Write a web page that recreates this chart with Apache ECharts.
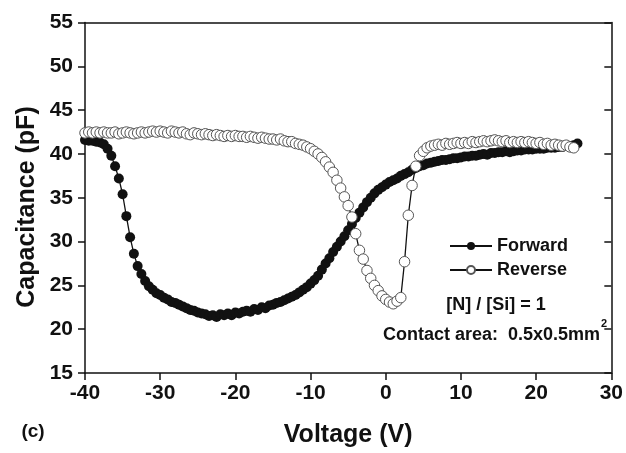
<!DOCTYPE html>
<html>
<head>
<meta charset="utf-8">
<script src="https://cdn.jsdelivr.net/npm/echarts@6/dist/echarts.min.js"></script>
<style>html,body{margin:0;padding:0;background:#fff;}#c{width:626px;height:453px;}</style>
</head>
<body>
<div id="c"></div>
<script>
const voltage = [
 -40,-39.5,-39,-38.5,-38,-37.5,-37,-36.5,-36,-35.5,
 -35,-34.5,-34,-33.5,-33,-32.5,-32,-31.5,-31,-30.5,
 -30,-29.5,-29,-28.5,-28,-27.5,-27,-26.5,-26,-25.5,
 -25,-24.5,-24,-23.5,-23,-22.5,-22,-21.5,-21,-20.5,
 -20,-19.5,-19,-18.5,-18,-17.5,-17,-16.5,-16,-15.5,
 -15,-14.5,-14,-13.5,-13,-12.5,-12,-11.5,-11,-10.5,
 -10,-9.5,-9,-8.5,-8,-7.5,-7,-6.5,-6,-5.5,
 -5,-4.5,-4,-3.5,-3,-2.5,-2,-1.5,-1,-0.5,
 0,0.5,1,1.5,2,2.5,3,3.5,4,4.5,
 5,5.5,6,6.5,7,7.5,8,8.5,9,9.5,
 10,10.5,11,11.5,12,12.5,13,13.5,14,14.5,
 15,15.5,16,16.5,17,17.5,18,18.5,19,19.5,
 20,20.5,21,21.5,22,22.5,23,23.5,24,24.5,
 25,25.5
];
const forward = [
 41.6,41.5,41.5,41.4,41.3,41.1,40.6,39.8,38.6,37.2,
 35.4,32.9,30.5,28.6,27.2,26.3,25.5,24.9,24.5,24.1,
 23.9,23.6,23.4,23.1,23.0,22.8,22.6,22.4,22.2,22.1,
 21.9,21.8,21.7,21.5,21.6,21.4,21.7,21.6,21.8,21.6,
 21.9,21.8,22.0,22.1,22.0,22.3,22.2,22.5,22.4,22.7,
 22.8,23.0,23.1,23.3,23.5,23.7,23.9,24.2,24.5,24.8,
 25.2,25.6,26.1,26.8,27.5,28.1,28.8,29.4,30.0,30.6,
 31.3,32.0,32.7,33.3,33.9,34.5,35.0,35.5,35.9,36.2,
 36.5,36.8,37.0,37.2,37.5,37.7,37.9,38.2,38.4,38.6,
 38.7,38.9,39.0,39.1,39.2,39.3,39.3,39.4,39.5,39.5,
 39.6,39.7,39.7,39.8,39.8,39.9,40.0,39.9,40.1,40.1,
 40.2,40.2,40.3,40.2,40.3,40.4,40.4,40.5,40.5,40.5,
 40.6,40.6,40.6,40.7,40.7,40.7,40.8,40.8,40.9,40.9,
 41.0,41.2
];
const reverse = [
 42.4,42.5,42.4,42.5,42.4,42.5,42.4,42.4,42.5,42.3,
 42.4,42.5,42.4,42.3,42.4,42.5,42.4,42.5,42.6,42.5,
 42.6,42.5,42.4,42.6,42.5,42.4,42.5,42.3,42.2,42.4,
 42.3,42.2,42.3,42.2,42.1,42.2,42.1,42.0,42.1,42.0,
 42.1,42.0,42.0,41.9,42.0,41.9,41.8,41.9,41.8,41.7,
 41.7,41.6,41.7,41.5,41.4,41.4,41.2,41.1,41.0,40.8,
 40.6,40.3,40.0,39.6,39.1,38.5,37.9,37.0,36.1,35.1,
 34.1,32.8,30.9,29.0,28.0,26.7,25.8,25.0,24.4,23.8,
 23.4,23.1,22.9,23.2,23.6,27.7,33.0,36.4,38.6,39.8,
 40.3,40.7,40.9,41.0,41.1,41.0,41.2,41.1,41.2,41.3,
 41.2,41.3,41.2,41.4,41.3,41.4,41.5,41.4,41.5,41.6,
 41.5,41.4,41.5,41.3,41.4,41.3,41.4,41.3,41.4,41.3,
 41.2,41.3,41.1,41.2,41.0,41.1,41.0,40.9,41.0,40.8,
 40.7
];
const xTicks = [-40,-30,-20,-10,0,10,20,30];
const yTicks = [15,20,25,30,35,40,45,50,55];
const seriesNames = ['Forward','Reverse'];

const FONT = '"Liberation Sans", Arial, Helvetica, sans-serif';
const pairs = (ys) => ys.map((y,i)=>[voltage[i], y]);

const chart = echarts.init(document.getElementById('c'), null, {renderer:'canvas'});
const axisLine = {show:true, onZero:false, lineStyle:{color:'#111', width:1.5}};
chart.setOption({
  animation:false,
  backgroundColor:'#fff',
  grid:{left:85, right:14, top:22.5, bottom:78},
  legend:{
    orient:'vertical', left:449, top:236, padding:0,
    itemWidth:42, itemHeight:10, itemGap:4,
    textStyle:{fontFamily:FONT, fontWeight:'bold', fontSize:18, color:'#111', lineHeight:20},
    data:seriesNames
  },
  xAxis:[{
    type:'value', min:xTicks[0], max:xTicks[xTicks.length-1], interval:10,
    axisLine:axisLine,
    axisTick:{show:true, inside:false, length:7, lineStyle:{color:'#111', width:1.5}},
    axisLabel:{fontFamily:FONT, fontWeight:'bold', fontSize:21, color:'#111', margin:10},
    splitLine:{show:false},
    name:'Voltage (V)', nameLocation:'middle', nameGap:50,
    nameTextStyle:{fontFamily:FONT, fontWeight:'bold', fontSize:25, color:'#111'}
  },{
    type:'value', position:'top', min:xTicks[0], max:xTicks[xTicks.length-1], interval:10,
    axisLine:axisLine, axisTick:{show:false}, axisLabel:{show:false}, splitLine:{show:false}
  }],
  yAxis:[{
    type:'value', position:'left', min:yTicks[0], max:yTicks[yTicks.length-1], interval:5,
    axisLine:axisLine,
    axisTick:{show:true, inside:false, length:7, lineStyle:{color:'#111', width:1.5}},
    axisLabel:{fontFamily:FONT, fontWeight:'bold', fontSize:21, color:'#111', margin:12},
    splitLine:{show:false}
  },{
    type:'value', position:'right', min:yTicks[0], max:yTicks[yTicks.length-1], interval:5,
    axisLine:axisLine,
    axisTick:{show:true, inside:true, length:7, lineStyle:{color:'#111', width:1.5}},
    axisLabel:{show:false}, splitLine:{show:false}
  }],
  graphic:[
    {type:'text', x:27, y:207, rotation:Math.PI/2, style:{text:'Capacitance (pF)', fontFamily:FONT, fontWeight:'bold', fontSize:25, fill:'#111', align:'center', verticalAlign:'middle'}},
    {type:'text', x:33, y:432, style:{text:'(c)', fontFamily:FONT, fontWeight:'bold', fontSize:19, fill:'#111', align:'center', verticalAlign:'middle'}},
    {type:'text', x:496, y:305, style:{text:'[N] / [Si] = 1', fontFamily:FONT, fontWeight:'bold', fontSize:18, fill:'#111', align:'center', verticalAlign:'middle'}},
    {type:'text', x:600, y:335, style:{text:'Contact area:  0.5x0.5mm', fontFamily:FONT, fontWeight:'bold', fontSize:18, fill:'#111', align:'right', verticalAlign:'middle'}},
    {type:'text', x:601, y:324, style:{text:'2', fontFamily:FONT, fontWeight:'bold', fontSize:11, fill:'#111', align:'left', verticalAlign:'middle'}}
  ],
  series:[{
    name:'Forward', type:'line', data:pairs(forward),
    symbol:'circle', symbolSize:10, showSymbol:true,
    lineStyle:{color:'#111', width:1.3},
    itemStyle:{color:'#111', borderWidth:0}
  },{
    name:'Reverse', type:'line', data:pairs(reverse),
    symbol:'circle', symbolSize:10.5, showSymbol:true,
    lineStyle:{color:'#111', width:1.3},
    itemStyle:{color:'#fff', borderColor:'#555', borderWidth:1}
  }]
});
</script>
</body>
</html>
